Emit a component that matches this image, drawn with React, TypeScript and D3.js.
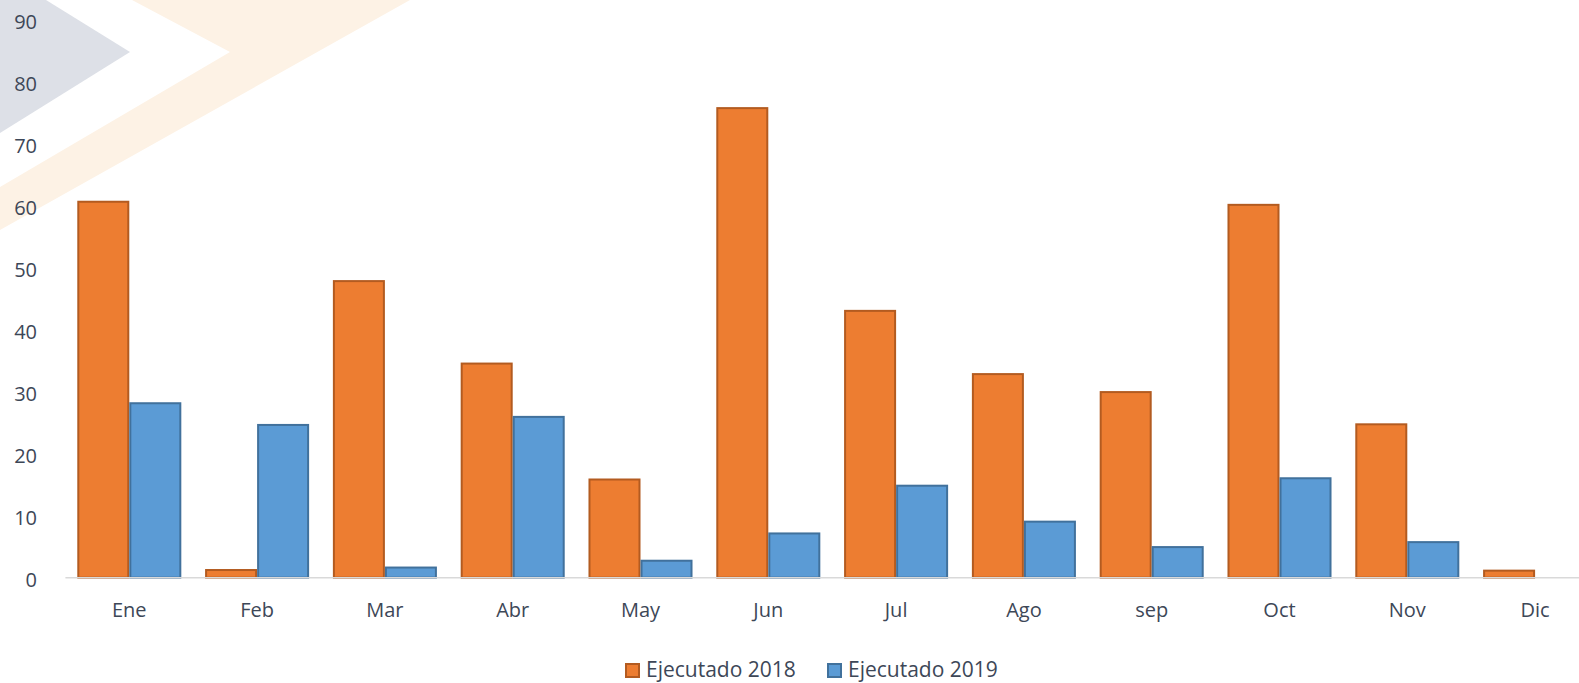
import React from "react";
import * as d3 from "d3";

const months = ["Ene", "Feb", "Mar", "Abr", "May", "Jun", "Jul", "Ago", "sep", "Oct", "Nov", "Dic"];
const ejecutado2018 = [60.8, 1.4, 48.0, 34.7, 16.0, 75.9, 43.2, 33.0, 30.1, 60.3, 24.9, 1.3];
const ejecutado2019 = [28.3, 24.8, 1.8, 26.1, 2.9, 7.3, 15.0, 9.2, 5.1, 16.2, 5.9, 0];
const yTicks = [0, 10, 20, 30, 40, 50, 60, 70, 80, 90];
const seriesNames = ["Ejecutado 2018", "Ejecutado 2019"];

const W = 1579;
const H = 683;
const FONT = "'Open Sans', sans-serif";
const TEXT = "#3d4757";
const fills = ["#ED7D31", "#5B9BD5"];
const strokes = ["#B35B20", "#41719C"];

export default function App() {
  const x = d3.scaleBand<string>().domain(months).range([65.4, 1599]).paddingInner(0.186).paddingOuter(0.093);
  const xs = d3.scaleBand<string>().domain(seriesNames).range([0, x.bandwidth()]);
  const y = d3.scaleLinear().domain([0, 90]).range([577.7, 19.7]);
  const series = [ejecutado2018, ejecutado2019];

  return (
    <svg width={W} height={H} style={{ position: "absolute", left: 0, top: 0, display: "block", background: "#fff" }}>
      {/* background decoration */}
      <polygon points="0,0 46,0 130,52 0,133" fill="#dde0e7" />
      <polygon points="132,0 410,0 0,230 0,187 230,52" fill="#fdf2e5" />

      {/* y tick labels */}
      {yTicks.map((t) => (
        <text key={t} x={37} y={y(t) + 1.5} textAnchor="end" dominantBaseline="central" fontFamily={FONT} fontSize={20} fill={TEXT}>
          {t}
        </text>
      ))}

      {/* bars */}
      {series.map((vals, si) =>
        months.map((m, i) => {
          const v = vals[i];
          if (!v) return null;
          const x0 = (x(m) as number) + (xs(seriesNames[si]) as number);
          const w = xs.bandwidth();
          const top = y(v);
          return (
            <rect
              key={`${si}-${m}`}
              x={x0 + 1}
              y={top + 1}
              width={w - 2}
              height={y(0) - top - 1}
              fill={fills[si]}
              stroke={strokes[si]}
              strokeWidth={2}
            />
          );
        })
      )}

      {/* baseline */}
      <line x1={65.4} x2={W} y1={y(0)} y2={y(0)} stroke="#d9d9d9" strokeWidth={1.5} />

      {/* x labels */}
      {months.map((m) => (
        <text key={m} x={(x(m) as number) + x.bandwidth() / 2} y={617} textAnchor="middle" fontFamily={FONT} fontSize={20} fill={TEXT}>
          {m}
        </text>
      ))}

      {/* legend */}
      {seriesNames.map((n, i) => {
        const lx = i === 0 ? 625 : 827;
        return (
          <g key={n}>
            <rect x={lx + 1} y={664} width={13} height={13} fill={fills[i]} stroke={strokes[i]} strokeWidth={2} />
            <text x={lx + 21} y={677} fontFamily={FONT} fontSize={21} fill={TEXT}>
              {n}
            </text>
          </g>
        );
      })}
    </svg>
  );
}
